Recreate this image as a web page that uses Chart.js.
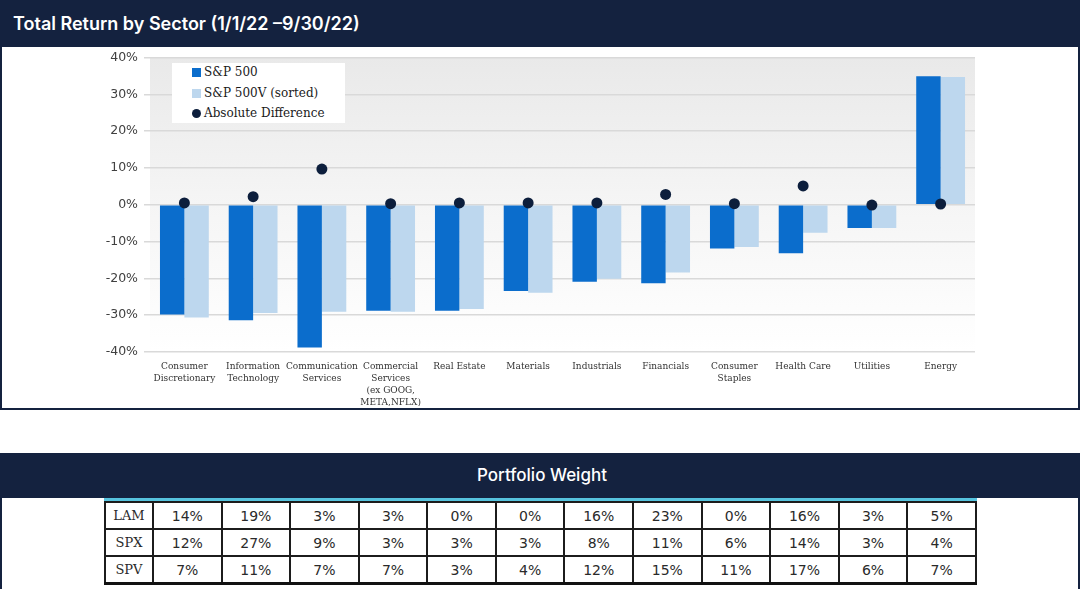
<!DOCTYPE html>
<html lang="en">
<head>
    <meta charset="UTF-8">
    <title>Total Return by Sector</title>
    <script src="https://cdn.jsdelivr.net/npm/chart.js"></script>
    <style>
        body {
            margin: 0;
            width: 1083px;
            height: 589px;
            position: relative;
            background: #fff;
            overflow: hidden;
        }

        .box-top {
            position: absolute;
            left: 0;
            top: 0;
            width: 1076px;
            height: 408px;
            border: 2px solid #14223f;
            border-top: none;
        }

        .title-bar {
            position: absolute;
            z-index: 2;
            left: 0;
            top: 0;
            width: 1080px;
            height: 47px;
            background: #14223f;
            color: #fff;
            font-family: Inter, sans-serif;
            font-weight: 600;
            font-size: 18px;
            line-height: 47px;
            padding-left: 13px;
            box-sizing: border-box;
        }

        .chart-wrap {
            position: absolute;
            left: 2px;
            top: 44px;
            width: 1076px;
            height: 365px;
        }

        .legend {
            position: absolute;
            left: 172px;
            top: 63px;
            width: 173px;
            height: 60px;
            background: #fff;
            font-family: "DejaVu Serif", serif;
            font-size: 12px;
            color: #1a1a1a;
        }

        .legend .item {
            position: absolute;
            left: 20px;
            height: 16px;
            line-height: 16px;
            white-space: nowrap;
        }

        .legend .sw {
            display: inline-block;
            width: 9px;
            height: 9px;
            margin-right: 3px;
            vertical-align: -1px;
        }

        .box-bottom {
            position: absolute;
            left: 0;
            top: 453px;
            width: 1076px;
            height: 140px;
            border-left: 2px solid #14223f;
            border-right: 2px solid #14223f;
        }

        .sub-bar {
            position: absolute;
            left: 0;
            top: 453px;
            width: 1080px;
            height: 45px;
            background: #14223f;
            color: #fff;
            font-family: Inter, sans-serif;
            font-weight: 500;
            font-size: 17px;
            line-height: 45px;
            text-align: center;
            padding-left: 4px;
            box-sizing: border-box;
        }

        .cyan {
            position: absolute;
            left: 104px;
            top: 498px;
            width: 873px;
            height: 3px;
            background: #56c3de;
        }

        table {
            position: absolute;
            left: 104px;
            top: 501px;
            border-collapse: collapse;
            table-layout: fixed;
            width: 873px;
        }

        td {
            border: 2px solid #1c1c1c;
            height: 25px;
            padding: 0;
            text-align: center;
            font-family: "DejaVu Sans", sans-serif;
            font-size: 14px;
            color: #2a2a2a;
        }

        tr:first-child td { border-top: none; }
        tr:last-child td { border-bottom: 3px solid #111; }

        td.row-name {
            font-family: "DejaVu Serif", serif;
            font-size: 13px;
        }
    </style>
</head>
<body>
    <div class="box-top"></div>
    <div class="title-bar">Total Return by Sector (1/1/22 –9/30/22)</div>
    <div class="chart-wrap">
        <canvas id="sectorChart"></canvas>
    </div>
    <div class="legend" id="legend"></div>

    <div class="box-bottom"></div>
    <div class="sub-bar">Portfolio Weight</div>
    <div class="cyan"></div>
    <table id="weights"></table>

    <script>
        const sectors = [
            ['Consumer', 'Discretionary'],
            ['Information', 'Technology'],
            ['Communication', 'Services'],
            ['Commercial', 'Services', '(ex GOOG,', 'META,NFLX)'],
            ['Real Estate'],
            ['Materials'],
            ['Industrials'],
            ['Financials'],
            ['Consumer', 'Staples'],
            ['Health Care'],
            ['Utilities'],
            ['Energy']
        ];

        const sp500 = [-29.8, -31.4, -38.8, -28.8, -28.8, -23.4, -20.9, -21.3, -11.9, -13.2, -6.3, 34.9];
        const sp500v = [-30.6, -29.4, -29.1, -29.1, -28.3, -23.9, -20.1, -18.4, -11.5, -7.6, -6.3, 34.7];
        const absDiff = [0.5, 2.2, 9.7, 0.3, 0.5, 0.5, 0.5, 2.8, 0.3, 5.1, -0.1, 0.2];

        const yTicks = [40, 30, 20, 10, 0, -10, -20, -30, -40];

        const weightRows = ['LAM', 'SPX', 'SPV'];
        const lamWeights = ['14%', '19%', '3%', '3%', '0%', '0%', '16%', '23%', '0%', '16%', '3%', '5%'];
        const spxWeights = ['12%', '27%', '9%', '3%', '3%', '3%', '8%', '11%', '6%', '14%', '3%', '4%'];
        const spvWeights = ['7%', '11%', '7%', '7%', '3%', '4%', '12%', '15%', '11%', '17%', '6%', '7%'];

        const darkBlue = '#0b6dcc';
        const lightBlue = '#bdd7ee';
        const navy = '#0c1e3c';

        // gray-to-white fill behind the plot, like the Excel chart
        const plotBackground = {
            id: 'plotBackground',
            beforeDraw(chart) {
                const { ctx, chartArea: a } = chart;
                const g = ctx.createLinearGradient(0, a.top, 0, a.bottom);
                g.addColorStop(0, '#e9e9e9');
                g.addColorStop(0.5, '#f5f5f5');
                g.addColorStop(1, '#ffffff');
                ctx.save();
                ctx.fillStyle = g;
                ctx.fillRect(a.left, a.top, a.right - a.left, a.bottom - a.top);
                ctx.restore();
            }
        };

        const ctx = document.getElementById('sectorChart').getContext('2d');
        const chart = new Chart(ctx, {
            type: 'bar',
            data: {
                labels: sectors,
                datasets: [
                    {
                        type: 'line',
                        label: 'Absolute Difference',
                        data: absDiff,
                        showLine: false,
                        pointRadius: 5.5,
                        pointBackgroundColor: navy,
                        pointBorderColor: navy,
                        pointBorderWidth: 0,
                        order: 0
                    },
                    {
                        label: 'S&P 500',
                        data: sp500,
                        backgroundColor: darkBlue,
                        categoryPercentage: 0.71,
                        barPercentage: 1,
                        order: 1
                    },
                    {
                        label: 'S&P 500V (sorted)',
                        data: sp500v,
                        backgroundColor: lightBlue,
                        categoryPercentage: 0.71,
                        barPercentage: 1,
                        order: 1
                    }
                ]
            },
            options: {
                responsive: true,
                maintainAspectRatio: false,
                animation: false,
                layout: {
                    padding: { left: 0, right: 103, top: 6, bottom: 3 }
                },
                scales: {
                    x: {
                        grid: { display: false, drawTicks: false },
                        border: { display: false },
                        ticks: {
                            color: '#333',
                            padding: 8,
                            maxRotation: 0,
                            autoSkip: false,
                            font: { family: 'DejaVu Serif', size: 9, lineHeight: 1.37 }
                        },
                        afterFit(scale) { scale.height = 54; }
                    },
                    y: {
                        min: -40,
                        max: 40,
                        afterBuildTicks(scale) {
                            scale.ticks = yTicks.map(v => ({ value: v }));
                        },
                        grid: {
                            color: '#d9d9d9',
                            lineWidth: 1.5,
                            tickLength: 6
                        },
                        border: { display: false },
                        ticks: {
                            color: '#404040',
                            padding: 6,
                            font: { family: 'DejaVu Sans', size: 12.5 },
                            callback: v => v + '%'
                        },
                        afterFit(scale) { scale.width = 148; }
                    }
                },
                plugins: {
                    legend: { display: false },
                    tooltip: { enabled: false }
                }
            },
            plugins: [plotBackground]
        });

        // legend box drawn in the top-left of the plot
        const legendItems = [
            { text: 'S&P 500', color: darkBlue, round: false },
            { text: 'S&P 500V (sorted)', color: lightBlue, round: false },
            { text: 'Absolute Difference', color: navy, round: true }
        ];
        const legend = document.getElementById('legend');
        legendItems.forEach((it, i) => {
            const row = document.createElement('div');
            row.className = 'item';
            row.style.top = (1 + i * 20.5) + 'px';
            const sw = document.createElement('span');
            sw.className = 'sw';
            sw.style.background = it.color;
            if (it.round) sw.style.borderRadius = '50%';
            row.appendChild(sw);
            row.appendChild(document.createTextNode(it.text));
            legend.appendChild(row);
        });

        // weights table
        const weightData = [lamWeights, spxWeights, spvWeights];
        const table = document.getElementById('weights');
        const colgroup = document.createElement('colgroup');
        const first = document.createElement('col');
        first.style.width = '48px';
        colgroup.appendChild(first);
        for (let i = 0; i < 12; i++) {
            const c = document.createElement('col');
            colgroup.appendChild(c);
        }
        table.appendChild(colgroup);
        weightRows.forEach((name, r) => {
            const tr = document.createElement('tr');
            const th = document.createElement('td');
            th.className = 'row-name';
            th.textContent = name;
            tr.appendChild(th);
            weightData[r].forEach(v => {
                const td = document.createElement('td');
                td.textContent = v;
                tr.appendChild(td);
            });
            table.appendChild(tr);
        });
    </script>
</body>
</html>
